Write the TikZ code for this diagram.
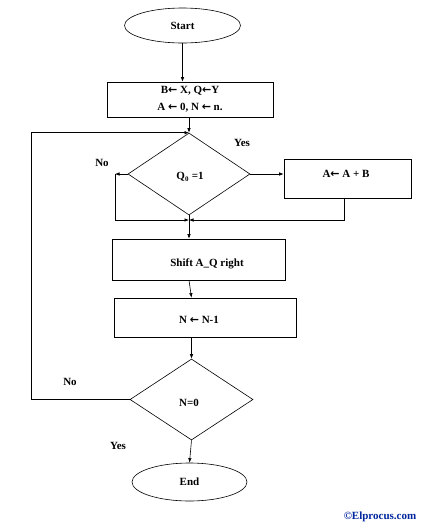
\documentclass[tikz,border=0pt]{standalone}
\usepackage{fontspec}
\setmainfont{Liberation Serif}
\newfontfamily\arrfont{DejaVu Sans}
\usetikzlibrary{shapes.geometric,arrows.meta}
\newcommand{\la}{{\arrfont\bfseries ←}}
\begin{document}
\begin{tikzpicture}[x=1pt,y=-1pt,
  every node/.style={font=\fontsize{11}{13}\selectfont\bfseries},
  ln/.style={line width=0.6pt,draw=black},
  arr/.style={ln,-{Latex[length=4.5pt,width=3.5pt]}},
  term/.style={ellipse,ln,inner sep=0pt},
  proc/.style={rectangle,ln,inner sep=0pt},
  dec/.style={diamond,ln,inner sep=0pt,aspect=1.5},
  lbl/.style={inner sep=0pt}]
\useasboundingbox (0,0) rectangle (430,531);
\fill[white] (0,0) rectangle (430,531);
\node[term,minimum width=116pt,minimum height=35pt] (start) at (182.5,25.5) {Start};
\node[proc,minimum width=166pt,minimum height=35pt,align=center,
  font=\fontsize{11}{17}\selectfont\bfseries] (init) at (190,99.5) {B\la{} X, Q\la Y\\A \la{} 0, N \la{} n.};
\node[dec,minimum width=122pt,minimum height=82pt] (d1) at (189,174) {};
\node[lbl] (q0) at (190,177) {Q\textsubscript{\scriptsize 0} =1};
\node[proc,minimum width=127pt,minimum height=39pt] (addb) at (347.5,178.5) {};
\node[lbl] (addbt) at (346,174) {A\la{} A + B};
\node[proc,minimum width=173pt,minimum height=41pt] (shift) at (198.5,259.5) {};
\node[lbl] (shiftt) at (207,264) {Shift A\_Q right};
\node[proc,minimum width=182pt,minimum height=39pt] (nbox) at (205,317.5) {};
\node[lbl] (nboxt) at (199,320) {N \la{} N-1};
\node[dec,minimum width=123pt,minimum height=81pt] (d2) at (191.5,399.5) {};
\node[lbl] (n0) at (189,403) {N=0};
\node[term,minimum width=115pt,minimum height=38pt] (end) at (189.5,482) {End};
\node[lbl] (yes1) at (242,143) {Yes};
\node[lbl] (no1) at (102,163) {No};
\node[lbl] (no2) at (70,382) {No};
\node[lbl] (yes2) at (118,446) {Yes};
\node[lbl,text=blue!55!black!85!cyan] (copy) at (380,517) {©Elprocus.com};
\coordinate (noL) at (115,174);
\coordinate (mg) at (189,220);
\coordinate (loopB) at (31,399.5);
\draw[arr] (start.south) -- (start.south |- init.north);
\draw[arr] (init.south -| d1.north) -- (d1.north);
\draw[arr] (d1.east) -- (d1.east -| addb.west);
\draw[arr] (d1.west) -- (noL);
\draw[arr] (noL) |- (mg);
\draw[arr] (addb.south -| 344,0) |- (mg);
\draw[arr] (d1.south) -- (d1.south |- shift.north);
\draw[arr] (shift.south -| d1.south) -- (nbox.north -| d2.north);
\draw[arr] (nbox.south -| d2.north) -- (d2.north);
\draw[arr] (d2.west) -- (loopB) |- (d1.north);
\draw[arr] (d2.south) -- (end.north);
\end{tikzpicture}
\end{document}
